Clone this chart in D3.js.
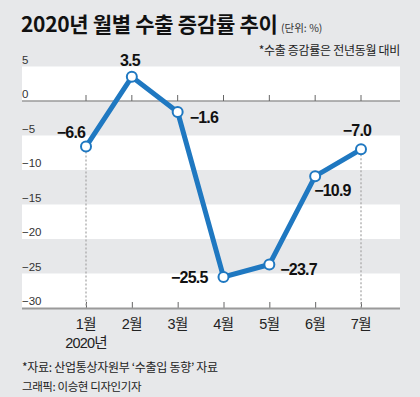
<!DOCTYPE html>
<html><head><meta charset="utf-8">
<script src="https://cdn.jsdelivr.net/npm/d3@7"></script>
<style>
html,body{margin:0;padding:0;background:#e7e8ea;}
svg{display:block;}
text{font-family:"Liberation Sans","Noto Sans CJK KR",sans-serif;}
</style></head>
<body>
<svg id="c" width="420" height="397"></svg>
<script>
const months = ["1월","2월","3월","4월","5월","6월","7월"];
const values = [-6.6, 3.5, -1.6, -25.5, -23.7, -10.9, -7.0];
const valueLabels = ["−6.6","3.5","−1.6","−25.5","−23.7","−10.9","−7.0"];
const yTicks = [5, 0, -5, -10, -15, -20, -25, -30];
const yTickLabels = ["5","0","−5","−10","−15","−20","−25","−30"];
const whiteBands = [[5,0],[-5,-10],[-15,-20],[-25,-30]];
// label offsets (dx, dy, anchor)
const labelPos = [[-15,-9,"middle"],[-2,-11,"middle"],[12,11,"start"],[-16,6,"end"],[11,10,"start"],[-1,20,"start"],[-4,-13,"middle"]];

const svg = d3.select("#c");
const L = 22, R = 400;
const y = d3.scaleLinear().domain([-30, 5]).range([308, 66.5]);
const x = d3.scalePoint().domain(months).range([86, 361]);

svg.append("rect").attr("width",420).attr("height",397).attr("fill","#e7e8ea");

svg.selectAll("rect.band").data(whiteBands).enter().append("rect")
  .attr("x", L).attr("width", R - L)
  .attr("y", d => y(d[0])).attr("height", d => y(d[1]) - y(d[0]))
  .attr("fill", "#ffffff");

// y tick labels
svg.selectAll("text.yt").data(yTicks).enter().append("text")
  .attr("x", L).attr("y", d => y(d) - 3)
  .attr("font-size", 11.5).attr("fill", "#333")
  .style("font-family", "'Liberation Sans Narrow','Liberation Sans',sans-serif")
  .text((d,i) => yTickLabels[i]);

// zero line
svg.append("line").attr("x1", L).attr("x2", R).attr("y1", y(0)).attr("y2", y(0))
  .attr("stroke", "#9a9a9a").attr("stroke-width", 1.5);
svg.selectAll("line.zt").data(months).enter().append("line")
  .attr("x1", d => x(d)).attr("x2", d => x(d))
  .attr("y1", y(0) - 6).attr("y2", y(0))
  .attr("stroke", "#666").attr("stroke-width", 1);

// bottom axis
const axis = d3.axisBottom(x).tickSize(-6).tickFormat("").tickSizeOuter(0);
const gA = svg.append("g").attr("transform", `translate(0,${y(-30)})`).call(axis);
gA.select(".domain").remove();
gA.selectAll(".tick line").attr("stroke", "#666");
svg.append("line").attr("x1", L).attr("x2", R).attr("y1", y(-30)+0.5).attr("y2", y(-30)+0.5)
  .attr("stroke", "#9a9a9a").attr("stroke-width", 2);

// dotted lines at first & last
[0, 6].forEach(i => {
  svg.append("line").attr("x1", x(months[i])).attr("x2", x(months[i]))
    .attr("y1", y(values[i]) + 5).attr("y2", y(-30))
    .attr("stroke", "#aaa").attr("stroke-width", 1.3).attr("stroke-dasharray", "2,2");
});

// month labels
svg.selectAll("text.mx").data(months).enter().append("text")
  .attr("x", d => x(d)).attr("y", 329).attr("text-anchor", "middle")
  .attr("font-size", 14.5).attr("fill", "#222").attr("letter-spacing", -0.5)
  .text(d => d);
svg.append("text").attr("x", x(months[0])).attr("y", 348).attr("text-anchor","middle")
  .attr("font-size", 14.5).attr("fill", "#222").attr("letter-spacing", -0.8).text("2020년");

// line
const line = d3.line().x((d,i) => x(months[i])).y(d => y(d));
svg.append("path").datum(values).attr("d", line)
  .attr("fill", "none").attr("stroke", "#1f78c1").attr("stroke-width", 5)
  .attr("stroke-linejoin", "miter");
svg.selectAll("circle").data(values).enter().append("circle")
  .attr("cx", (d,i) => x(months[i])).attr("cy", d => y(d)).attr("r", 5)
  .attr("fill", "#fff").attr("stroke", "#1f78c1").attr("stroke-width", 2);

// value labels
svg.selectAll("text.vl").data(values).enter().append("text")
  .attr("x", (d,i) => x(months[i]) + labelPos[i][0])
  .attr("y", (d,i) => y(d) + labelPos[i][1])
  .attr("text-anchor", (d,i) => labelPos[i][2])
  .attr("font-size", 16).attr("font-weight", "bold").attr("fill", "#111")
  .attr("letter-spacing", -0.8)
  .text((d,i) => valueLabels[i]);

// title
svg.append("text").attr("x", L - 1).attr("y", 32)
  .attr("font-size", 21).attr("font-weight", "bold").attr("fill", "#111")
  .attr("letter-spacing", -0.3)
  .style("font-family", "'Noto Sans CJK KR',sans-serif")
  .text("2020년 월별 수출 증감률 추이");
svg.append("text").attr("x", 281).attr("y", 32)
  .attr("font-size", 10.5).attr("fill", "#333")
  .style("font-family", "'Noto Sans CJK KR',sans-serif")
  .text("(단위: %)");
svg.append("text").attr("x", R).attr("y", 55).attr("text-anchor", "end")
  .attr("font-size", 12).attr("fill", "#222").attr("letter-spacing", -0.3)
  .style("font-family", "'Noto Sans CJK KR',sans-serif")
  .text("*수출 증감률은 전년동월 대비");

// footer
svg.append("text").attr("x", L).attr("y", 372)
  .attr("font-size", 12).attr("fill", "#222").attr("letter-spacing", -0.3)
  .style("font-family", "'Noto Sans CJK KR',sans-serif")
  .text("*자료: 산업통상자원부 ‘수출입 동향’ 자료");
svg.append("text").attr("x", L).attr("y", 391)
  .attr("font-size", 11.5).attr("fill", "#222").attr("letter-spacing", -0.4)
  .style("font-family", "'Noto Sans CJK KR',sans-serif")
  .text("그래픽: 이승현 디자인기자");
</script>
</body></html>
